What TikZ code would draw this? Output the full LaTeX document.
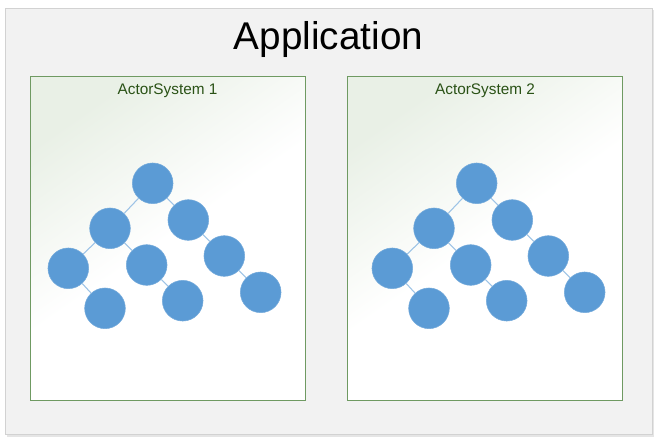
\documentclass[tikz,border=0pt]{standalone}
\usepackage{fontspec}
\setmainfont{Liberation Sans}

\definecolor{appgray}{HTML}{F2F2F2}
\definecolor{appline}{HTML}{D2D2D2}
\definecolor{sysgreen}{HTML}{6F9A62}
\definecolor{systext}{HTML}{2A5216}
\definecolor{systop}{HTML}{E9F0E6}
\definecolor{actorblue}{HTML}{5B9BD5}
\definecolor{linkblue}{HTML}{9DC3E6}

\tikzset{
  appbox/.style={fill=appgray, draw=appline, line width=0.6pt},
  sysbox/.style={draw=sysgreen, line width=0.6pt, top color=systop, bottom color=white, middle color=white, shading angle=35},
  syslabel/.style={text=systext, font=\fontsize{11.5}{14}\selectfont, inner sep=0pt, anchor=base},
  actor/.style={circle, fill=actorblue, draw=actorblue!85!white, line width=0.4pt, minimum size=30.5pt, inner sep=0pt},
  link/.style={linkblue, line width=0.8pt},
}

\begin{document}
\begin{tikzpicture}[x=0.75pt, y=-0.75pt]
        \useasboundingbox (0,0) rectangle (660,444);
        % application frame
        \fill [black!10] (7,10) rectangle (654,437);
        \path [appbox] (5,8) rectangle (652,434);
        \node [inner sep=0pt, anchor=base, font=\fontsize{29}{34}\selectfont] (app) at (328.5,49.3) {Application};
        % the two actor systems
        \foreach \s/\bx/\tx in {1/0/0, 2/317.5/324}{
          \begin{scope}[shift={(\bx,0)}]
            \path [sysbox] (30,76) rectangle (305,400);
            \node [syslabel] (sys\s) at (167.5,94.7) {ActorSystem \s};
          \end{scope}
          \begin{scope}[shift={(\tx,0)}]
            \node [actor] (top\s) at (152.7,183.3) {};
            \node [actor] (l\s) at (110,228.3) {};
            \node [actor] (r\s) at (188.3,220) {};
            \node [actor] (ll\s) at (68.3,268.3) {};
            \node [actor] (lr\s) at (146.7,265) {};
            \node [actor] (rr\s) at (224.3,256) {};
            \node [actor] (lll\s) at (105,308.3) {};
            \node [actor] (lrr\s) at (182.7,300.7) {};
            \node [actor] (rrr\s) at (260.7,292.3) {};
            \draw [link] (top\s) -- (l\s);
            \draw [link] (top\s) -- (r\s);
            \draw [link] (l\s) -- (ll\s);
            \draw [link] (l\s) -- (lr\s);
            \draw [link] (r\s) -- (rr\s);
            \draw [link] (ll\s) -- (lll\s);
            \draw [link] (lr\s) -- (lrr\s);
            \draw [link] (rr\s) -- (rrr\s);
          \end{scope}
        }
    \end{tikzpicture}
\end{document}
